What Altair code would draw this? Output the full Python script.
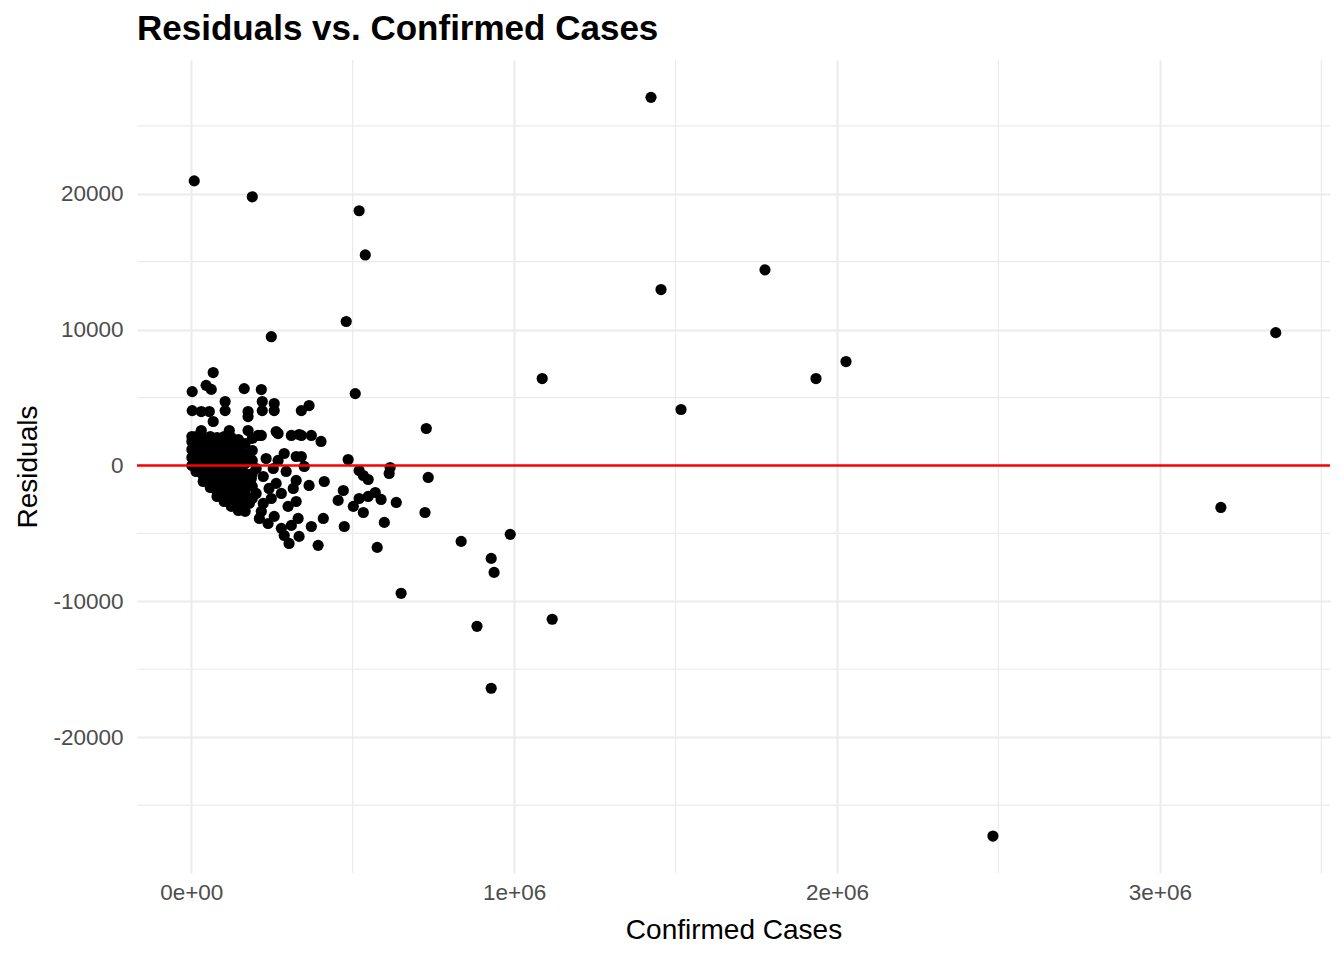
import altair as alt
import pandas as pd

# ---- data (confirmed cases, residuals) ----
outlier_x = [1424000, 9300, 189000, 520000, 539000, 1777000, 1455000, 480000, 3359000, 248000,
             2028000, 1087000, 1935000, 1517000, 508000, 728000, 3189000, 2483000, 929000, 885000,
             1118000, 650000, 938000, 929000, 988000, 836000, 576000, 393000, 303000, 734000, 724000]
outlier_y = [27100, 20950, 19780, 18750, 15500, 14400, 12950, 10600, 9780, 9480,
             7650, 6400, 6400, 4120, 5290, 2720, -3090, -27280, -16400, -11840,
             -11320, -9410, -7870, -6840, -5070, -5590, -6030, -5880, -5740, -880, -3460]

mid_x = [341000, 365000, 372000, 402000, 341000, 310000, 334000, 269000, 207000, 217000,
         176000, 118000, 263000, 486000, 341000, 350000, 288000, 325000, 269000, 294000,
         520000, 533000, 548000, 616000, 613000, 325000, 365000, 412000, 316000, 471000,
         455000, 520000, 548000, 570000, 588000, 502000, 533000, 635000, 325000, 300000,
         331000, 310000, 409000, 372000, 474000, 598000, 279000, 288000, 334000, 217000,
         257000, 238000, 211000, 201000, 223000, 241000, 201000, 223000, 248000, 180000,
         263000, 279000, 254000, 232000, 186000, 167000]
mid_y = [4040, 4410, 2210, 1770, 2210, 2210, 2280, 2350, 2210, 2210,
         2570, 2570, 2500, 440, 660, -70, 880, 660, 370, -440,
         -370, -740, -1030, -150, -590, -1100, -1470, -1180, -1690, -1840,
         -2570, -2430, -2280, -1990, -2500, -3010, -3460, -2720, -2650, -3010,
         -3900, -4410, -3900, -4490, -4490, -4190, -4630, -5150, -5220, -3380,
         -3750, -4270, -3900, -220, -810, -1690, -2060, -2790, -2430, -2790,
         -1320, -2060, -220, 510, -960, -3380]

upper_x = [68000, 46000, 62000, 3000, 164000, 217000, 105000, 105000, 3000, 31000,
           56000, 68000, 176000, 176000, 220000, 220000, 257000, 257000, 31000]
upper_y = [6840, 5900, 5600, 5440, 5660, 5590, 4710, 4040, 4040, 3970,
           3970, 3240, 3970, 3600, 4710, 4040, 4560, 4040, 2570]

dense_x = [2000, 2000, 2000, 2000, 2000,
           15000, 15000, 15000, 15000, 15000, 15000,
           37000, 37000, 37000, 37000, 37000, 37000, 37000,
           59000, 59000, 59000, 59000, 59000, 59000, 59000, 59000,
           80000, 80000, 80000, 80000, 80000, 80000, 80000, 80000, 80000,
           102000, 102000, 102000, 102000, 102000, 102000, 102000, 102000, 102000, 102000,
           124000, 124000, 124000, 124000, 124000, 124000, 124000, 124000, 124000, 124000,
           146000, 146000, 146000, 146000, 146000, 146000, 146000, 146000, 146000, 146000,
           167000, 167000, 167000, 167000, 167000, 167000, 167000,
           189000, 189000, 189000, 189000, 189000, 189000]
dense_y = [2130, 1770, 1180, 590, 0,
           2130, 1910, 1320, 740, 150, -440,
           2060, 1620, 1030, 440, -150, -740, -1180,
           2130, 1910, 1320, 740, 150, -440, -1030, -1620,
           2060, 1620, 1030, 440, -150, -740, -1320, -1910, -2280,
           2130, 1910, 1320, 740, 150, -440, -1030, -1620, -2210, -2650,
           2060, 1620, 1030, 440, -150, -740, -1320, -1910, -2500, -3010,
           1910, 1320, 740, 150, -440, -1030, -1620, -2210, -2790, -3310,
           1620, 880, 150, -590, -1320, -2060, -2790,
           1990, 1100, 370, -590, -1540, -2430]

x_ticks = [0, 1000000, 2000000, 3000000]
y_ticks = [-20000, -10000, 0, 10000, 20000]
x_minor = [500000, 1500000, 2500000, 3500000]
y_minor = [-25000, -15000, -5000, 5000, 15000, 25000]
x_domain = [-168000, 3527000]
y_domain = [-30000, 29850]

points = pd.DataFrame({
    "confirmed": outlier_x + mid_x + upper_x + dense_x,
    "residual": outlier_y + mid_y + upper_y + dense_y,
})

FONT = "Liberation Sans"
GRID = "#EBEBEB"

xscale = alt.Scale(domain=x_domain, nice=False, zero=False)
yscale = alt.Scale(domain=y_domain, nice=False, zero=False)

xaxis = alt.Axis(
    values=x_ticks,
    labelExpr="datum.value == 0 ? '0e+00' : format(datum.value / 1000000, 'd') + 'e+06'",
    labelPadding=8,
    titlePadding=13,
)
yaxis = alt.Axis(values=y_ticks, labelExpr="'' + datum.value", labelPadding=14, titlePadding=10)

XT = "Confirmed Cases"
YT = "Residuals"

xminor = alt.Chart(pd.DataFrame({"confirmed": x_minor})).mark_rule(
    color=GRID, strokeWidth=1.2
).encode(x=alt.X("confirmed:Q", scale=xscale, title=XT, axis=xaxis))

yminor = alt.Chart(pd.DataFrame({"residual": y_minor})).mark_rule(
    color=GRID, strokeWidth=1.2
).encode(y=alt.Y("residual:Q", scale=yscale, title=YT, axis=yaxis))

pts = alt.Chart(points).mark_circle(
    size=125, color="black", opacity=1
).encode(
    x=alt.X("confirmed:Q", scale=xscale, title=XT, axis=xaxis),
    y=alt.Y("residual:Q", scale=yscale, title=YT, axis=yaxis),
)

zero_line = alt.Chart(pd.DataFrame({"residual": [0]})).mark_rule(
    color="#FF0000", strokeWidth=2.5
).encode(y=alt.Y("residual:Q", scale=yscale, title=YT, axis=yaxis))

chart = alt.layer(xminor, yminor, pts, zero_line).properties(
    width=1193,
    height=813,
    autosize=alt.AutoSizeParams(type="none"),
    padding={"left": 129, "top": 52, "right": 5, "bottom": 78},
    title=alt.TitleParams(
        "Residuals vs. Confirmed Cases",
        anchor="start",
        frame="group",
        font=FONT,
        fontSize=35,
        fontWeight="bold",
        color="black",
        offset=12,
    ),
).configure(background="white").configure_view(
    strokeWidth=0, stroke="transparent"
).configure_axis(
    domain=False,
    ticks=False,
    grid=True,
    gridColor=GRID,
    gridWidth=2,
    labelFont=FONT,
    labelFontSize=22.5,
    labelColor="#4D4D4D",
    titleFont=FONT,
    titleFontSize=28,
    titleFontWeight="normal",
    titleColor="black",
)

chart.save("out.html", embed_options={"renderer": "svg", "actions": False})
